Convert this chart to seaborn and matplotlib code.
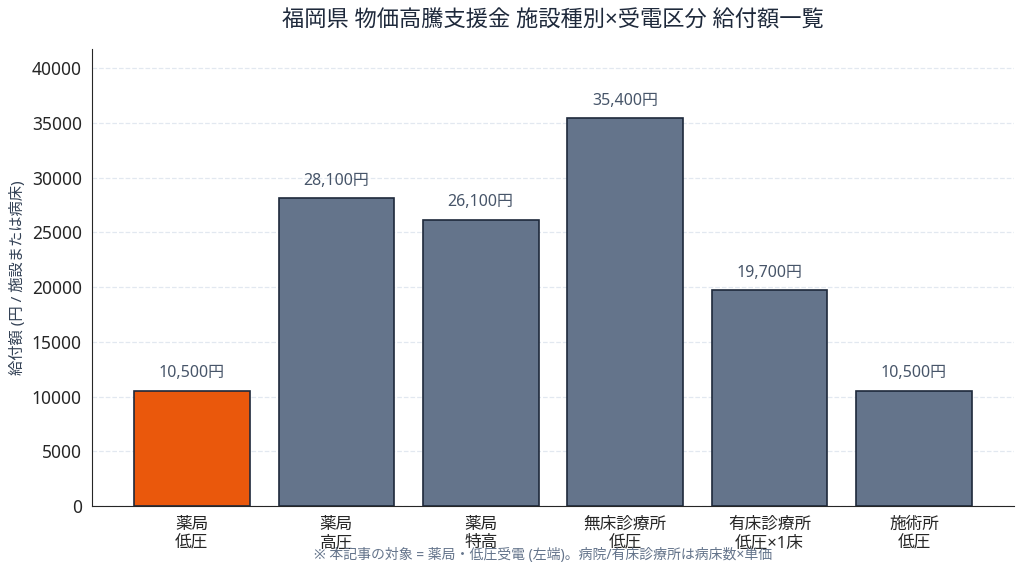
import matplotlib
matplotlib.use("Agg")
import pandas as pd
import seaborn as sns
import matplotlib.pyplot as plt

# データ
categories = ["薬局\n低圧", "薬局\n高圧", "薬局\n特高", "無床診療所\n低圧", "有床診療所\n低圧×1床", "施術所\n低圧"]
amounts = [10500, 28100, 26100, 35400, 19700, 10500]
highlight = [True, False, False, False, False, False]

df = pd.DataFrame({"区分": categories, "給付額": amounts})

sns.set_style("white")
plt.rcParams["font.family"] = ["Noto Sans", "Noto Sans CJK JP", "DejaVu Sans"]

fig, ax = plt.subplots(figsize=(10.24, 5.72), dpi=100)

colors = ["#EA580C" if h else "#64748B" for h in highlight]
sns.barplot(data=df, x="区分", y="給付額", hue="区分", palette=colors, legend=False,
            width=0.8, edgecolor="#1E293B", linewidth=1.2, saturation=1, ax=ax)

for i, v in enumerate(amounts):
    ax.text(i, v + 900, f"{v:,}円", ha="center", va="bottom", fontsize=11.5, color="#475569")

ax.set_xlim(-0.69, 5.69)
ax.set_ylim(0, max(amounts) * 1.18)
ax.yaxis.grid(True, linestyle="--", color="#E2E8F0", linewidth=0.9)
ax.set_axisbelow(True)
sns.despine(ax=ax)
ax.tick_params(axis="y", labelsize=12.5, length=4, color="#333333")
ax.tick_params(axis="x", labelsize=12, length=4, color="#333333")
ax.set_xlabel("")
ax.set_ylabel("給付額 (円 / 施設または病床)", fontsize=11, color="#334155")
ax.set_title("福岡県 物価高騰支援金 施設種別×受電区分 給付額一覧", fontsize=16, color="#1E293B", pad=16)

fig.text(0.53, 0.022, "※ 本記事の対象 = 薬局・低圧受電 (左端)。病院/有床診療所は病床数×単価",
         ha="center", fontsize=10, color="#64748B")

plt.subplots_adjust(left=0.09, right=0.99, top=0.915, bottom=0.115)
plt.savefig("out.png", dpi=100)
